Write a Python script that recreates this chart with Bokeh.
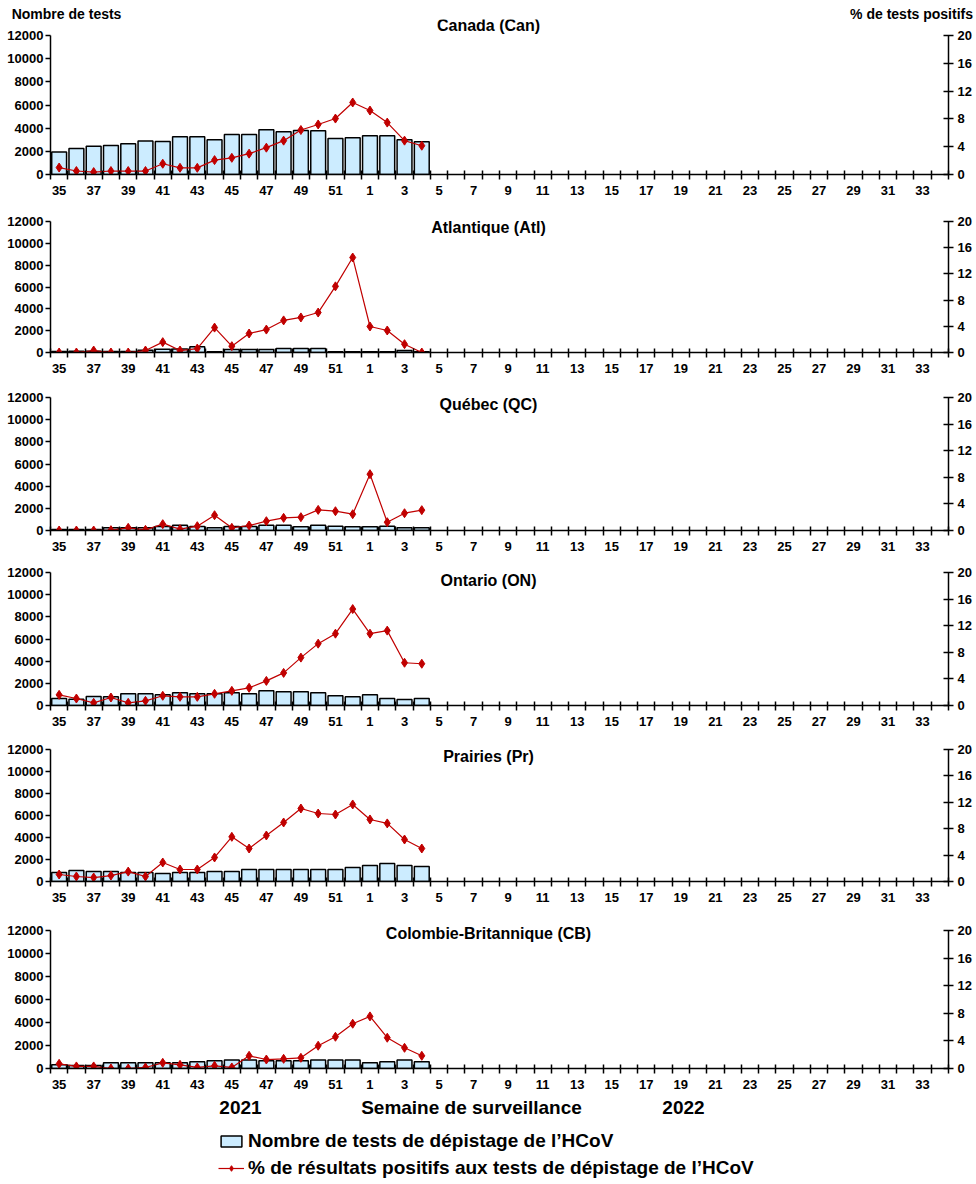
from bokeh.plotting import figure
from bokeh.models import (Range1d, LinearAxis, FixedTicker, Label, Legend, LegendItem,
                          ColumnDataSource)
from bokeh.layouts import column
from bokeh.embed import file_html
from bokeh.resources import INLINE

# ---------------- data ----------------
weeks = [str(w) for w in list(range(35, 53)) + list(range(1, 35))]
data_weeks = [str(w) for w in list(range(35, 53)) + list(range(1, 5))]

regions = ["Canada (Can)", "Atlantique (Atl)", "Québec (QC)", "Ontario (ON)",
           "Prairies (Pr)", "Colombie-Britannique (CB)"]

tests_can = [1950, 2250, 2430, 2500, 2650, 2900, 2850, 3250, 3250, 3000, 3450, 3450,
             3870, 3700, 3800, 3780, 3100, 3180, 3350, 3350, 3000, 2830]
pct_can = [1.0, 0.5, 0.35, 0.5, 0.5, 0.5, 1.55, 0.96, 0.96, 2.07, 2.4, 3.0,
           3.86, 4.87, 6.4, 7.2, 8.05, 10.36, 9.2, 7.47, 4.87, 4.14]

tests_atl = [100, 120, 120, 100, 100, 200, 300, 330, 520, 60, 280, 280,
             280, 370, 370, 370, 80, 80, 80, 80, 180, 60]
pct_atl = [0.0, 0.0, 0.3, 0.0, 0.0, 0.3, 1.58, 0.3, 0.6, 3.8, 0.97, 2.9,
           3.5, 4.9, 5.35, 6.1, 10.1, 14.5, 3.97, 3.36, 1.27, 0.0]

tests_qc = [100, 100, 100, 240, 240, 240, 360, 480, 360, 240, 360, 360,
            480, 480, 330, 480, 390, 330, 330, 390, 240, 240]
pct_qc = [0.0, 0.0, 0.0, 0.05, 0.4, 0.1, 0.95, 0.2, 0.65, 2.3, 0.4, 0.75,
          1.4, 1.9, 2.0, 3.1, 2.9, 2.45, 8.47, 1.25, 2.6, 3.06]

tests_on = [630, 570, 810, 780, 1060, 1060, 960, 1150, 1060, 1060, 1150, 1060,
            1330, 1240, 1240, 1150, 870, 780, 960, 630, 540, 630]
pct_on = [1.6, 1.05, 0.4, 1.2, 0.4, 0.7, 1.46, 1.3, 1.3, 1.76, 2.2, 2.66,
          3.7, 4.9, 7.2, 9.3, 10.8, 14.5, 10.8, 11.26, 6.43, 6.28]

tests_pr = [820, 1000, 910, 910, 820, 820, 730, 820, 820, 910, 910, 1090,
            1090, 1090, 1090, 1090, 1090, 1270, 1450, 1640, 1450, 1360]
pct_pr = [1.06, 0.76, 0.6, 0.9, 1.5, 0.76, 2.88, 1.82, 1.82, 3.64, 6.77, 5.0,
          6.97, 8.94, 11.06, 10.3, 10.15, 11.67, 9.4, 8.8, 6.36, 5.0]

tests_cb = [320, 260, 260, 490, 490, 490, 490, 490, 580, 670, 750, 750,
            670, 670, 670, 750, 750, 750, 490, 580, 750, 580]
pct_cb = [0.68, 0.3, 0.3, 0.0, 0.0, 0.15, 0.82, 0.53, 0.15, 0.39, 0.15, 1.84,
          1.3, 1.4, 1.55, 3.3, 4.6, 6.49, 7.55, 4.46, 3.0, 1.84]

tests_all = [tests_can, tests_atl, tests_qc, tests_on, tests_pr, tests_cb]
pct_all = [pct_can, pct_atl, pct_qc, pct_on, pct_pr, pct_cb]

left_ticks = [0, 2000, 4000, 6000, 8000, 10000, 12000]
right_ticks = [0, 4, 8, 12, 16, 20]
LEFT_MAX = 12000
RIGHT_MAX = 20

left_title = "Nombre de tests"
right_title = "% de tests positifs"
x_title = "Semaine de surveillance"
years = ["2021", "2022"]
legend_bar = "Nombre de tests de dépistage de l\u2019HCoV"
legend_line = "% de résultats positifs aux tests de dépistage de l\u2019HCoV"

# ---------------- style / layout (page pixels) ----------------
FONT = "Liberation Sans"
BAR_FILL = "#CCECFF"
RED = "#C00000"
W = 976
H = 1184
LEFT = 50
RIGHT = 948
FRAME_W = RIGHT - LEFT
n = len(weeks)
TICK_FS = "13px"


def px_to_x(px):
    return (px - LEFT) / FRAME_W * n


# figure top, frame top, axis top, axis bottom, figure bottom, title y
panel_px = [
    (0, 19, 35, 174, 208, 25),
    (208, 211, 221, 352, 385, 227),
    (385, 387, 397, 530, 560, 404),
    (560, 562, 572, 705, 737, 580),
    (737, 739, 749, 881, 918, 756),
    (918, 920, 930, 1068, 1096, 933),
]

centers = [i + 0.5 for i in range(len(data_weeks))]


def style_label_axis(ax, size=TICK_FS):
    ax.major_label_text_font = FONT
    ax.major_label_text_font_style = "bold"
    ax.major_label_text_font_size = size
    ax.major_label_text_color = "black"
    ax.axis_line_width = 1.5
    ax.axis_line_color = "black"


def text_axis(ticks, labels, size):
    ax = LinearAxis(ticker=FixedTicker(ticks=ticks, minor_ticks=[]))
    ax.major_label_overrides = dict(zip(ticks, labels))
    style_label_axis(ax, size)
    ax.axis_line_color = None
    ax.major_tick_line_color = None
    ax.minor_tick_line_color = None
    ax.major_tick_in = 0
    ax.major_tick_out = 0
    return ax


figs = []
for k, (title, tests, pct) in enumerate(zip(regions, tests_all, pct_all)):
    ftop, frtop, atop, abot, fbot, ty_px = panel_px[k]
    h = fbot - ftop
    scale = (abot - frtop) / (abot - atop)
    p = figure(width=W, height=h, x_range=Range1d(0, n),
               y_range=Range1d(0, LEFT_MAX * scale),
               output_backend="svg", toolbar_location=None,
               min_border_left=LEFT, min_border_right=W - RIGHT,
               min_border_top=frtop - ftop, min_border_bottom=fbot - abot)
    p.extra_y_ranges = {"pct": Range1d(0, RIGHT_MAX * scale)}
    p.outline_line_color = None
    p.grid.visible = False

    src = ColumnDataSource(dict(x=centers, tests=tests, pct=pct, week=data_weeks))
    p.vbar(x="x", top="tests", width=0.86, bottom=0, source=src,
           fill_color=BAR_FILL, line_color="black", line_width=1.5)
    p.line(x="x", y="pct", source=src, y_range_name="pct", line_color=RED, line_width=1.2)
    p.scatter(x="x", y="pct", source=src, y_range_name="pct", marker="diamond",
              size=9, fill_color=RED, line_color=RED)

    # x axis: minor ticks at category boundaries, labels at odd category centers
    xa = p.xaxis[0]
    major = [i + 0.5 for i in range(0, n, 2)]
    xa.ticker = FixedTicker(ticks=major, minor_ticks=list(range(0, n + 1)))
    xa.major_label_overrides = {i + 0.5: weeks[i] for i in range(0, n, 2)}
    xa.major_tick_line_color = None
    xa.major_tick_in = 0
    xa.major_tick_out = 0
    xa.minor_tick_in = 4
    xa.minor_tick_out = 5
    xa.minor_tick_line_color = "black"
    xa.minor_tick_line_width = 1.5
    xa.major_label_standoff = 6
    style_label_axis(xa)

    ya = p.yaxis[0]
    ya.ticker = FixedTicker(ticks=left_ticks)
    ya.bounds = (0, LEFT_MAX)
    ya.minor_tick_line_color = None
    ya.major_tick_in = 0
    ya.major_tick_out = 5
    ya.major_tick_line_width = 1.5
    ya.major_label_standoff = 2
    style_label_axis(ya)

    ra = LinearAxis(y_range_name="pct", ticker=FixedTicker(ticks=right_ticks),
                    bounds=(0, RIGHT_MAX))
    ra.minor_tick_line_color = None
    ra.major_tick_in = 5
    ra.major_tick_out = 5
    ra.major_tick_line_width = 1.5
    ra.major_label_standoff = 4
    style_label_axis(ra)
    p.add_layout(ra, "right")

    ty = LEFT_MAX * (abot - ty_px) / (abot - atop)
    p.add_layout(Label(x=px_to_x(488), y=ty, text=title, text_align="center",
                       text_baseline="middle", text_font=FONT, text_font_style="bold",
                       text_font_size="16px", text_color="black"))

    if k == 0:
        ta = text_axis([round(px_to_x(66), 2), round(px_to_x(911), 2)],
                       [left_title, right_title], "14px")
        ta.major_label_standoff = -2
        p.add_layout(ta, "above")
    figs.append(p)

# ---------------- bottom strip: axis title, years, legend ----------------
QTOP = panel_px[-1][4]
LH = H - QTOP
q = figure(width=W, height=LH, x_range=Range1d(LEFT, RIGHT), y_range=Range1d(0, LH),
           x_axis_type=None, y_axis_type=None, output_backend="svg",
           toolbar_location=None, min_border_left=LEFT, min_border_right=W - RIGHT,
           min_border_top=0, min_border_bottom=0)
q.outline_line_color = None
q.grid.visible = False
for txt, xx in [(years[0], 240), (x_title, 471), (years[1], 683)]:
    q.add_layout(Label(x=xx, y=H - 1107, text=txt, text_align="center",
                       text_baseline="middle", text_font=FONT, text_font_style="bold",
                       text_font_size="19px", text_color="black"))

# legend-only renderers: a single NaN row so nothing is drawn in the plot area
nan = float("nan")
legend_src = ColumnDataSource(dict(x=[nan], y=[nan]))
rb = q.vbar(x="x", top="y", width=1, source=legend_src, fill_color=BAR_FILL,
            line_color="black", line_width=1.5)
rl = q.line(x="x", y="y", source=legend_src, line_color=RED, line_width=1.2)
rs = q.scatter(x="x", y="y", source=legend_src, marker="diamond", size=8,
               fill_color=RED, line_color=RED)
leg = Legend(items=[LegendItem(label=legend_bar, renderers=[rb]),
                    LegendItem(label=legend_line, renderers=[rl, rs])],
             location=(218 - LEFT, 5), padding=0, margin=0, spacing=5,
             glyph_width=26, glyph_height=14, label_height=22, label_standoff=4,
             label_text_font=FONT, label_text_font_style="bold",
             label_text_font_size="19px", label_text_color="black",
             border_line_color=None, background_fill_alpha=0)
q.add_layout(leg)
figs.append(q)

page = column(*figs, spacing=0)
open("out.html", "w").write(file_html(page, INLINE))
